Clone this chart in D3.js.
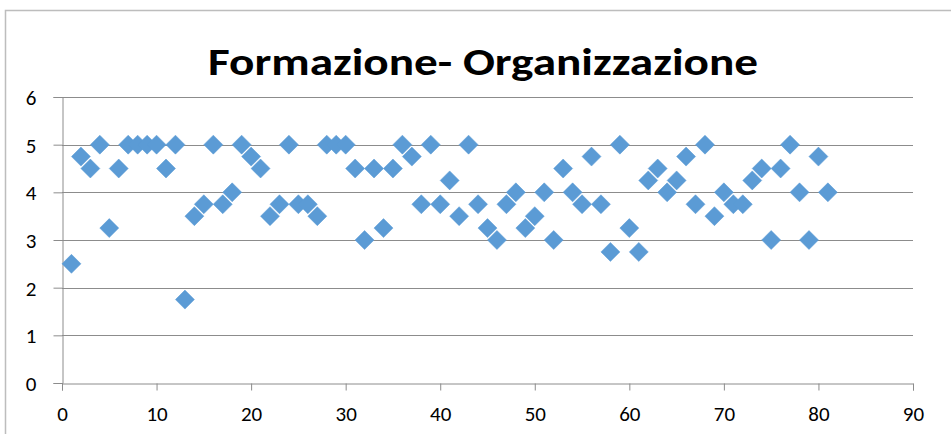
<html lang="it">
<head>
 <meta charset="UTF-8">
 <title>Formazione- Organizzazione</title>
 <style>
  body { margin: 0; background: #ffffff; }
  text { font-family: Carlito, Calibri, Lato, "Noto Sans", sans-serif; fill: #000000; }
 </style>
</head>
<body>
<div id="my_dataviz"></div>
<script src="https://d3js.org/d3.v7.min.js"></script>
<script>
// data: one value per respondent (x = 1..81)
var respondents = d3.range(1, 82);
var scores = [
  2.5, 4.75, 4.5, 5, 3.25, 4.5, 5, 5, 5, 5,
  4.5, 5, 1.75, 3.5, 3.75, 5, 3.75, 4, 5, 4.75,
  4.5, 3.5, 3.75, 5, 3.75, 3.75, 3.5, 5, 5, 5,
  4.5, 3, 4.5, 3.25, 4.5, 5, 4.75, 3.75, 5, 3.75,
  4.25, 3.5, 5, 3.75, 3.25, 3, 3.75, 4, 3.25, 3.5,
  4, 3, 4.5, 4, 3.75, 4.75, 3.75, 2.75, 5, 3.25,
  2.75, 4.25, 4.5, 4, 4.25, 4.75, 3.75, 5, 3.5, 4,
  3.75, 3.75, 4.25, 4.5, 3, 4.5, 5, 4, 3, 4.75,
  4
];
var xTicks = [0, 10, 20, 30, 40, 50, 60, 70, 80, 90];
var yTicks = [0, 1, 2, 3, 4, 5, 6];
var title = "Formazione- Organizzazione";

var W = 951, H = 434;
var margin = {top: 97, right: 38, bottom: 51, left: 62},
    width = 913 - margin.left,
    height = 383 - margin.top;

var svg0 = d3.select("#my_dataviz")
  .append("svg")
    .attr("width", W)
    .attr("height", H);

// chart area border (only top and left show inside the window)
svg0.append("rect")
    .attr("x", 5.5)
    .attr("y", 10.5)
    .attr("width", W + 20)
    .attr("height", H + 20)
    .attr("fill", "none")
    .attr("stroke", "#bdbdbd")
    .attr("stroke-width", 1.5);

var svg = svg0.append("g")
    .attr("transform", "translate(" + margin.left + "," + margin.top + ")");

// scales
var xScale = d3.scaleLinear().domain([0, 90]).range([0, width]);
var yScale = d3.scaleLinear().domain([0, 6]).range([height, 0]);

// horizontal gridlines
svg.append("g")
  .selectAll("line")
  .data(yTicks.filter(function(d) { return d > 0; }))
  .enter()
  .append("line")
    .attr("x1", 0)
    .attr("x2", width)
    .attr("y1", function(d) { return Math.round(yScale(d)) + 0.5; })
    .attr("y2", function(d) { return Math.round(yScale(d)) + 0.5; })
    .attr("stroke", "#8c8c8c")
    .attr("stroke-width", 1);

// x axis
var xAxis = svg.append("g")
    .attr("transform", "translate(0," + (Math.round(height) + 0.5) + ")")
    .call(d3.axisBottom(xScale).tickValues(xTicks).tickFormat(d3.format("d"))
      .tickSize(7).tickPadding(16));

// y axis
var yAxis = svg.append("g")
    .attr("transform", "translate(0.5,0)")
    .call(d3.axisLeft(yScale).tickValues(yTicks).tickFormat(d3.format("d"))
      .tickSize(9).tickPadding(17));

svg.selectAll(".domain").attr("stroke", "#8c8c8c");
svg.selectAll(".tick line").attr("stroke", "#8c8c8c");
svg.selectAll(".tick text")
    .style("font-size", "21px")
    .attr("fill", "#000000");
yAxis.selectAll(".tick text").attr("dy", "0.36em");
xAxis.selectAll(".tick text").attr("dy", "0.71em");

// diamond markers
var diamond = "M0,-9.5L9.5,0L0,9.5L-9.5,0Z";
svg.append("g")
  .selectAll("path")
  .data(respondents)
  .enter()
  .append("path")
    .attr("d", diamond)
    .attr("transform", function(d, i) {
      return "translate(" + xScale(d) + "," + yScale(scores[i]) + ")";
    })
    .attr("fill", "#5b9bd5")
    .attr("stroke", "#5b9bd5")
    .attr("stroke-width", 0.5);

// chart title
svg0.append("text")
    .attr("x", 483)
    .attr("y", 75)
    .attr("text-anchor", "middle")
    .attr("font-weight", "bold")
    .style("font-size", "39px")
    .attr("textLength", 550)
    .attr("lengthAdjust", "spacingAndGlyphs")
    .text(title);
</script>
</body>
</html>
